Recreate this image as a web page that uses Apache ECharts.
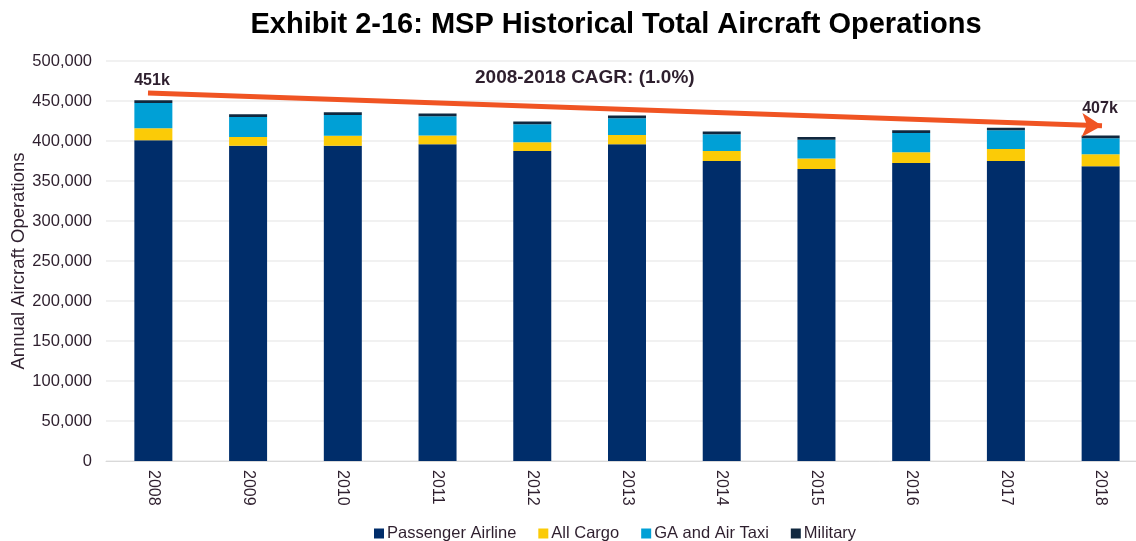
<!DOCTYPE html>
<html>
<head>
<meta charset="utf-8">
<script src="https://cdn.jsdelivr.net/npm/echarts@6/dist/echarts.min.js"></script>
<style>
  html, body { margin: 0; padding: 0; background: #fff; }
  #chart { width: 1136px; height: 541px; }
</style>
</head>
<body>
<div id="chart"></div>
<script>
const years = ['2008', '2009', '2010', '2011', '2012', '2013', '2014', '2015', '2016', '2017', '2018'];
const passenger = [401000, 394000, 394000, 396000, 387500, 396000, 375000, 365000, 372500, 375000, 368500];
const cargo = [15000, 11000, 12500, 11000, 11000, 11500, 12500, 13000, 13500, 15000, 15000];
const gaTaxi = [31500, 25000, 26000, 24000, 22500, 21000, 21000, 23500, 24000, 23500, 20000];
const military = [3500, 3500, 3500, 3500, 3500, 3500, 3500, 3500, 3500, 3000, 3500];
const trendStart = 460000;
const trendEnd = 419000;
const cagrText = '2008-2018 CAGR: (1.0%)';

const totals = years.map((y, i) => passenger[i] + cargo[i] + gaTaxi[i] + military[i]);
const last = years.length - 1;

var chart = echarts.init(document.getElementById('chart'));
const txt = '#2e1f2e';
const font = 'Arial, "Liberation Sans", sans-serif';

function barSeries(name, data, color) {
  return {
    name: name,
    type: 'bar',
    stack: 'ops',
    barWidth: 38,
    data: data,
    itemStyle: { color: color }
  };
}

const option = {
  animation: false,
  textStyle: { fontFamily: font },
  title: {
    text: 'Exhibit 2-16: MSP Historical Total Aircraft Operations',
    left: 611,
    textAlign: 'center',
    top: 5,
    textStyle: { fontSize: 29, fontWeight: 'bold', color: '#000', fontFamily: font }
  },
  legend: {
    bottom: -6,
    left: 369,
    itemWidth: 10,
    itemHeight: 10,
    itemGap: 22,
    icon: 'rect',
    textStyle: { fontSize: 16.5, color: txt, padding: [0, 0, 0, -2] },
    data: ['Passenger Airline', 'All Cargo', 'GA and Air Taxi', 'Military']
  },
  grid: { left: 106, width: 1042, top: 61, bottom: 80, outerBoundsMode: 'none' },
  xAxis: {
    type: 'category',
    data: years,
    axisLine: { lineStyle: { color: '#d9d9d9', width: 1 } },
    axisTick: { show: false },
    axisLabel: { rotate: -90, fontSize: 16, color: txt, margin: 9 }
  },
  yAxis: {
    type: 'value',
    min: 0,
    max: 500000,
    interval: 50000,
    name: 'Annual Aircraft Operations',
    nameLocation: 'middle',
    nameGap: 78,
    nameMoveOverlap: false,
    nameTextStyle: { fontSize: 18.5, color: txt },
    axisLabel: {
      fontSize: 16.5,
      color: txt,
      margin: 14,
      formatter: v => v.toLocaleString('en-US')
    },
    splitLine: { lineStyle: { color: '#ececec', width: 1.5 } }
  },
  graphic: [{
    type: 'text',
    left: 475,
    top: 68,
    style: { text: cagrText, fill: txt, font: 'bold 19px Arial, "Liberation Sans", sans-serif' }
  }],
  series: [
    barSeries('Passenger Airline', passenger, '#002d6a'),
    barSeries('All Cargo', cargo, '#fbcb07'),
    barSeries('GA and Air Taxi', gaTaxi, '#00a0d6'),
    Object.assign(barSeries('Military', military, '#10283f'), {
      markLine: {
        silent: true,
        symbol: ['none', 'arrow'],
        symbolSize: [18, 20],
        lineStyle: { color: '#f05423', width: 5, type: 'solid' },
        label: { show: false },
        data: [[
          { coord: [0, trendStart], x: 148 },
          { coord: [last, trendEnd], x: 1102 }
        ]]
      },
      markPoint: {
        symbol: 'circle',
        symbolSize: 0,
        label: {
          show: true,
          fontSize: 16,
          fontWeight: 'bold',
          color: txt,
          formatter: p => Math.round(p.value / 1000) + 'k'
        },
        data: [
          { coord: [0, totals[0] + 24000], value: totals[0], x: 152 },
          { coord: [last, totals[last] + 34000], value: totals[last], x: 1100 }
        ]
      }
    })
  ]
};
chart.setOption(option);
</script>
</body>
</html>
